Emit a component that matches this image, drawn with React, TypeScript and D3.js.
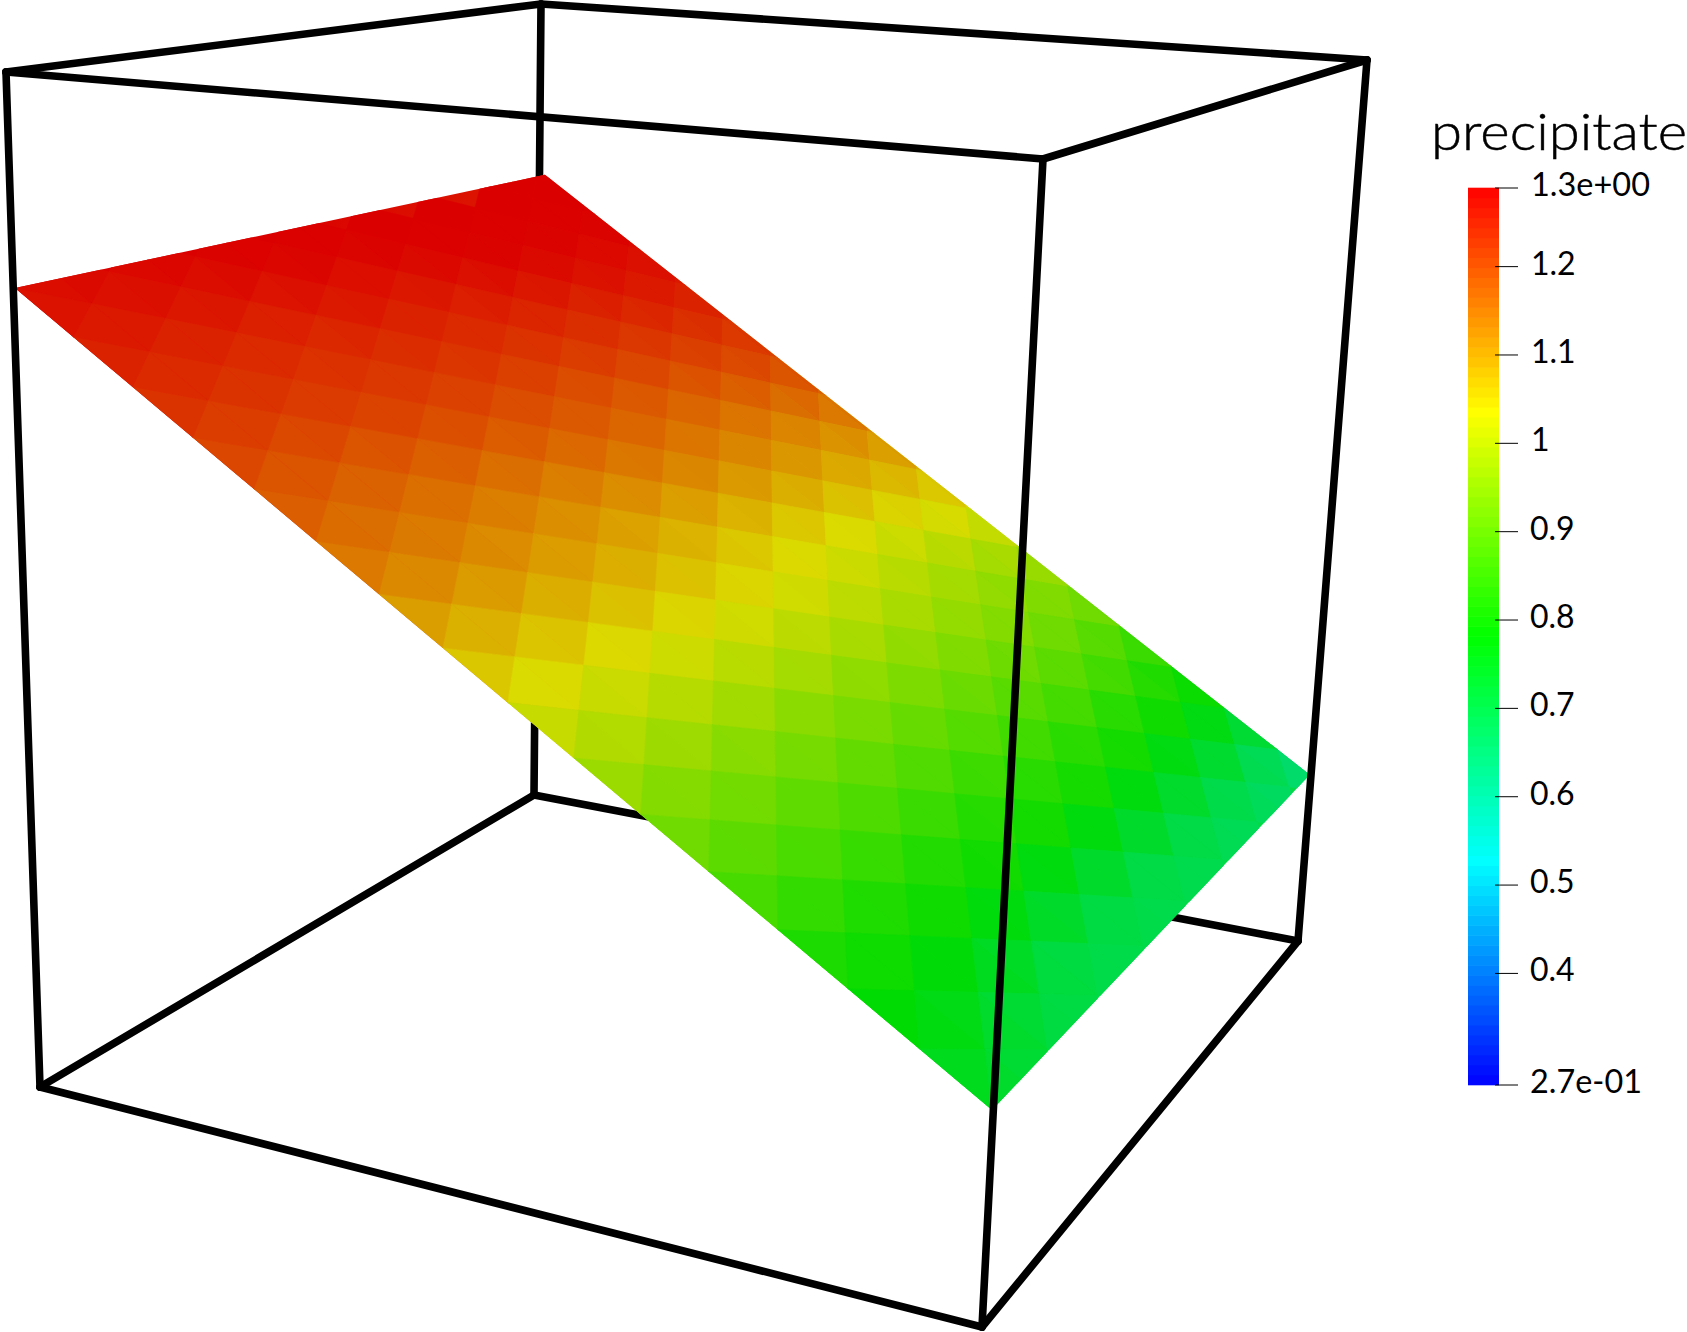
import React from "react";
import * as d3 from "d3";

const WIDTH = 1687;
const HEIGHT = 1332;

// Colour-bar title, ticks (value and label) and range
const legendTitle = "precipitate";
const legendMin = 0.2737;
const legendMax = 1.289;
const tickValues = [1.289, 1.2, 1.1, 1.0, 0.9, 0.8, 0.7, 0.6, 0.5, 0.4, 0.2737];
const tickLabels = ["1.3e+00", "1.2", "1.1", "1", "0.9", "0.8", "0.7", "0.6", "0.5", "0.4", "2.7e-01"];
const rainbowStops = [0.2737, 0.527, 0.781, 1.035, 1.289];
const rainbowColors = ["#0000ff", "#00ffff", "#00ff00", "#ffff00", "#ff0000"];
const barBands = 90;

// Mesh: the precipitate value read at each node. gridRows[k] is the row index,
// gridFirstCol[k] the column index of the first value in that row.
const gridRows = [-14,-13,-12,-11,-10,-9,-8,-7,-6,-5,-4,-3,-2,-1,0,1,2,3,4,5,6,7,8,9,10,11];
const gridFirstCol = [-4,-5,-5,-6,-7,-8,-9,-10,-11,-12,-11,-10,-9,-8,-7,-6,-5,-4,-3,-2,-1,0,1,2,3,4];
const nodeValues = [
  [1.29,1.29],
  [1.29,1.29,1.29],
  [1.29,1.29,1.29,1.285],
  [1.29,1.29,1.29,1.285,1.28,1.27],
  [1.29,1.29,1.29,1.285,1.28,1.27,1.26,1.25],
  [1.29,1.29,1.29,1.285,1.28,1.265,1.26,1.25,1.24,1.23],
  [1.29,1.29,1.285,1.275,1.265,1.26,1.245,1.24,1.23,1.22,1.21,1.20],
  [1.285,1.285,1.28,1.275,1.26,1.25,1.245,1.235,1.225,1.21,1.20,1.19,1.175,1.16],
  [1.28,1.28,1.275,1.265,1.255,1.25,1.24,1.23,1.215,1.205,1.19,1.175,1.155,1.14,1.13,1.115],
  [1.275,1.275,1.27,1.26,1.25,1.24,1.235,1.225,1.215,1.20,1.185,1.17,1.15,1.135,1.115,1.10,1.085,1.065],
  [1.27,1.26,1.25,1.24,1.23,1.225,1.215,1.20,1.185,1.17,1.155,1.135,1.115,1.095,1.07,1.055,1.035,1.02],
  [1.25,1.24,1.23,1.22,1.21,1.195,1.18,1.165,1.15,1.13,1.11,1.085,1.06,1.04,1.02,1.0,0.985,0.965],
  [1.23,1.22,1.205,1.19,1.175,1.16,1.14,1.12,1.10,1.08,1.055,1.035,1.01,0.99,0.97,0.945,0.94,0.92],
  [1.21,1.195,1.175,1.16,1.145,1.125,1.105,1.085,1.065,1.04,1.02,1.0,0.975,0.955,0.93,0.91,0.88,0.865],
  [1.181,1.168,1.15,1.132,1.11,1.091,1.068,1.045,1.022,1.004,0.976,0.953,0.93,0.912,0.889,0.85,0.81,0.80],
  [1.146,1.128,1.107,1.087,1.064,1.041,1.018,1.0,0.972,0.949,0.926,0.908,0.885,0.862,0.83,0.79,0.78,0.70],
  [1.10,1.083,1.06,1.037,1.014,0.996,0.968,0.945,0.922,0.904,0.881,0.858,0.835,0.79,0.78,0.71,0.67,0.65],
  [1.056,1.033,1.01,0.992,0.964,0.941,0.918,0.90,0.877,0.854,0.831,0.80,0.785,0.71,0.69,0.665,0.64],
  [1.006,0.988,0.96,0.937,0.914,0.896,0.873,0.85,0.825,0.80,0.785,0.71,0.695,0.68,0.66],
  [0.956,0.933,0.91,0.892,0.869,0.846,0.82,0.80,0.785,0.71,0.70,0.69,0.67],
  [0.906,0.888,0.865,0.842,0.819,0.796,0.783,0.71,0.70,0.69,0.68],
  [0.861,0.838,0.815,0.792,0.785,0.72,0.70,0.70,0.69],
  [0.81,0.79,0.785,0.74,0.71,0.70,0.69],
  [0.78,0.76,0.74,0.71,0.70],
  [0.775,0.74,0.71],
  [0.74],
];

// Outline of the sheet in mesh coordinates (column, row)
const sheetCorners: [number, number][] = [[-11, -5], [-3.85, -13.1], [11.6, 2.6], [4, 10]];

// Camera: four mesh nodes and where they appear in the view, used to solve the projection
const meshAnchors: [number, number][] = [[-11, -5], [4, 10], [5, 0], [-5, -10]];
const viewAnchors: [number, number][] = [[15, 288], [992, 1110], [986, 640], [469, 232]];

// Wire box corners, as seen by the camera
const boxCorners: Record<string, [number, number]> = {
  backTopLeft: [541, 4], frontTopLeft: [6, 72], backTopRight: [1367, 60], frontTopRight: [1043, 159],
  backBottomLeft: [534, 795], frontBottomLeft: [40, 1087], backBottomRight: [1298, 941], frontBottomRight: [982, 1327],
};
const backEdges = [["backTopLeft", "backBottomLeft"], ["backBottomLeft", "backBottomRight"]];
const frontEdges = [
  ["backTopLeft", "frontTopLeft"], ["backTopLeft", "backTopRight"], ["frontTopLeft", "frontTopRight"],
  ["backTopRight", "frontTopRight"], ["frontTopLeft", "frontBottomLeft"], ["frontTopRight", "frontBottomRight"],
  ["backTopRight", "backBottomRight"], ["frontBottomLeft", "frontBottomRight"],
  ["frontBottomRight", "backBottomRight"], ["backBottomLeft", "frontBottomLeft"],
];

function solveProjection(src: [number, number][], dst: [number, number][]) {
  const m: number[][] = [];
  src.forEach(([x, y], k) => {
    const [u, v] = dst[k];
    m.push([x, y, 1, 0, 0, 0, -u * x, -u * y, u]);
    m.push([0, 0, 0, x, y, 1, -v * x, -v * y, v]);
  });
  for (let c = 0; c < 8; c++) {
    let p = c;
    for (let r = c + 1; r < 8; r++) if (Math.abs(m[r][c]) > Math.abs(m[p][c])) p = r;
    [m[c], m[p]] = [m[p], m[c]];
    for (let r = 0; r < 8; r++) {
      if (r === c) continue;
      const f = m[r][c] / m[c][c];
      for (let k = c; k < 9; k++) m[r][k] -= f * m[c][k];
    }
  }
  const h = m.map((row, i) => row[8] / row[i]);
  return (x: number, y: number): [number, number] => {
    const w = h[6] * x + h[7] * y + 1;
    return [(h[0] * x + h[1] * y + h[2]) / w, (h[3] * x + h[4] * y + h[5]) / w];
  };
}

const project = solveProjection(meshAnchors, viewAnchors);
const line = d3.line();
const closed = (pts: [number, number][]) => line(pts) + "Z";

const rainbow = d3.scaleLinear<string>().domain(rainbowStops).range(rainbowColors).interpolate(d3.interpolateRgb).clamp(true);
const LIGHT = 0.86;
const shaded = (v: number) => {
  const c = d3.rgb(rainbow(v));
  return `rgb(${Math.round(c.r * LIGHT)},${Math.round(c.g * LIGHT)},${Math.round(c.b * LIGHT)})`;
};

const lookup = (col: number, row: number): number | undefined => {
  const k = row - gridRows[0];
  if (k < 0 || k >= gridRows.length) return undefined;
  return nodeValues[k][col - gridFirstCol[k]];
};

type Tri = { path: string; value: number };
const triangles: Tri[] = [];
gridRows.forEach((row) => {
  for (let col = -13; col <= 13; col++) {
    const a = lookup(col, row), b = lookup(col + 1, row), c = lookup(col + 1, row + 1), d = lookup(col, row + 1);
    const pa = project(col, row), pb = project(col + 1, row), pc = project(col + 1, row + 1), pd = project(col, row + 1);
    if (a !== undefined && b !== undefined && c !== undefined)
      triangles.push({ path: closed([pa, pb, pc]), value: (a + b + c) / 3 });
    if (a !== undefined && c !== undefined && d !== undefined)
      triangles.push({ path: closed([pa, pc, pd]), value: (a + c + d) / 3 });
  }
});

const sheetPts = sheetCorners.map(([c, r]) => project(c, r));
const sheetPath = closed(sheetPts);

const barY = d3.scaleLinear().domain([legendMin, legendMax]).range([1085, 188]);
const bandValues = d3.range(barBands).map((k) => legendMin + ((k + 0.5) * (legendMax - legendMin)) / barBands);
const bandH = (barY(legendMin) - barY(legendMax)) / barBands;

// Values along the sheet, for the colour behind the mesh cells
const underOffsets = [0, 0.2, 0.35, 0.5, 0.65, 0.8, 1];
const underValues = [1.29, 1.25, 1.19, 1.05, 0.94, 0.83, 0.7];

const FONT = "Lato, 'Open Sans', sans-serif";

export default function App() {
  const edge = ([a, b]: string[], key: string) => (
    <path key={key} d={line([boxCorners[a], boxCorners[b]]) || ""} stroke="#000" strokeWidth={7.6} strokeLinecap="round" fill="none" />
  );
  return (
    <svg width={WIDTH} height={HEIGHT} style={{ position: "absolute", left: 0, top: 0, background: "#fff" }}>
      <defs>
        <clipPath id="sheet"><path d={sheetPath} /></clipPath>
        <linearGradient id="under" gradientUnits="userSpaceOnUse"
          x1={(sheetPts[0][0] + sheetPts[1][0]) / 2} y1={(sheetPts[0][1] + sheetPts[1][1]) / 2}
          x2={(sheetPts[2][0] + sheetPts[3][0]) / 2} y2={(sheetPts[2][1] + sheetPts[3][1]) / 2}>
          {underOffsets.map((o, i) => <stop key={o} offset={o} stopColor={shaded(underValues[i])} />)}
        </linearGradient>
      </defs>
      <g>{backEdges.map((e, i) => edge(e, "b" + i))}</g>
      <path d={sheetPath} fill="url(#under)" />
      <g clipPath="url(#sheet)">
        {triangles.map((t, i) => (
          <path key={i} d={t.path} fill={shaded(t.value)} stroke={shaded(t.value)} strokeWidth={0.6} />
        ))}
      </g>
      <g>{frontEdges.map((e, i) => edge(e, "f" + i))}</g>
      <g>
        {bandValues.map((v, i) => (
          <rect key={i} x={1468} width={31} y={barY(v) - bandH / 2 - 0.3} height={bandH + 0.6} fill={rainbow(v)} />
        ))}
      </g>
      <text x={1431} y={150} fontFamily={FONT} fontWeight={300} fontSize={52} textLength={256} lengthAdjust="spacingAndGlyphs" fill="#000" stroke="#000" strokeWidth={0.5}>{legendTitle}</text>
      {tickValues.map((v, i) => {
        const label = tickLabels[i];
        const long = label.length > 3;
        return (
          <g key={label}>
            <line x1={1495} x2={1518} y1={barY(v)} y2={barY(v)} stroke="#000" strokeWidth={1} />
            <text x={label.startsWith("1") ? 1531 : 1530} y={barY(v) + 8} fontFamily={FONT} fontWeight={400} fontSize={32} fill="#000"
              textLength={long ? (label.startsWith("1") ? 119 : 112) : undefined} lengthAdjust="spacingAndGlyphs">{label}</text>
          </g>
        );
      })}
    </svg>
  );
}
